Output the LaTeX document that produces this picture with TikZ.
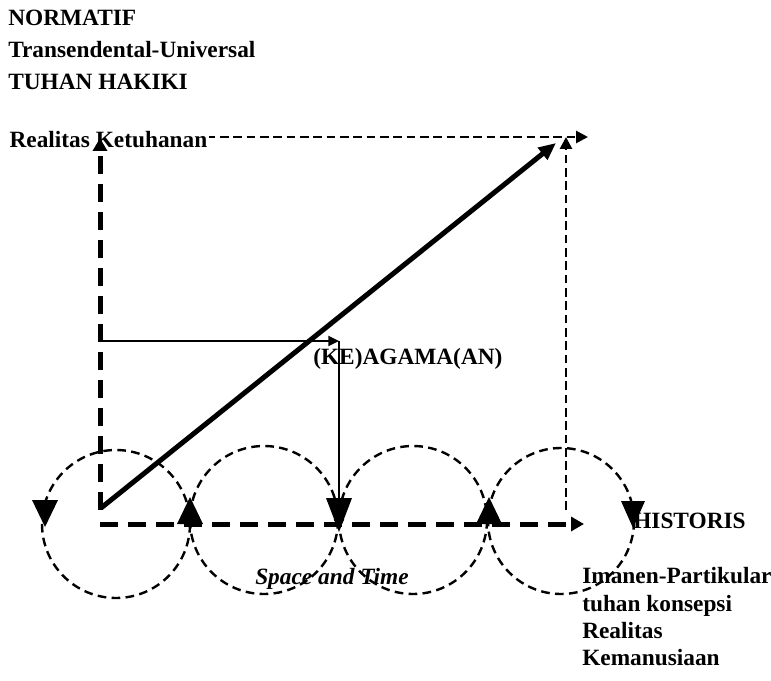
\documentclass[tikz,border=0pt]{standalone}
\usepackage{fontspec}
\setmainfont{Liberation Serif}
\usetikzlibrary{arrows.meta, positioning}

\tikzset{
    lbl/.style={
        anchor=base west, inner sep=0pt,
        font=\bfseries\fontsize{17.5}{21}\selectfont
    },
    axisline/.style={
        line width=3.75pt, dash pattern=on 13.5pt off 7.5pt,
        -{Triangle[length=9.75pt, width=10.5pt]}
    },
    guideline/.style={
        line width=2pt, dash pattern=on 6.5pt off 3.5pt,
        -{Triangle[length=9pt, width=9pt]}
    },
    loopcirc/.style={
        line width=1.8pt, dash pattern=on 6.5pt off 4pt
    },
    trend/.style={
        line width=3.75pt, -{Triangle[length=13pt, width=11pt]}
    },
    link/.style={
        line width=1.6pt, -{Triangle[length=8pt, width=7.5pt]}
    },
    head/.style={fill=black}
}

\begin{document}
\begin{tikzpicture}[x=0.75pt, y=-0.75pt]
    \useasboundingbox (0,0) rectangle (771,681);

    % points of the frame
    \coordinate (O) at (100,524);
    \coordinate (Ostart) at (100,510);
    \coordinate (Ytop) at (100,138);
    \coordinate (Xend) at (584,524);
    \coordinate (TL) at (100,137);
    \coordinate (TRend) at (588,137);
    \coordinate (Rbot) at (566,510);
    \coordinate (Rtop) at (566,137);
    \coordinate (Dstart) at (101,508);
    \coordinate (Dend) at (556,143);
    \coordinate (K1) at (99,341);
    \coordinate (K2) at (339,341);
    \coordinate (K3) at (339,530);

    % SPACE AND TIME CIRCLES
    \draw[loopcirc] (116,524) circle[radius=74];
    \draw[loopcirc] (264,520) circle[radius=74];
    \draw[loopcirc] (413,520) circle[radius=74];
    \draw[loopcirc] (561,521) circle[radius=73];

    % FRAME
    \draw[guideline] (TL) -- (TRend);
    \draw[guideline] (Rbot) -- (Rtop);
    \node[lbl, fill=white, inner sep=1pt] (ketuhanan) at (8,148) {Realitas Ketuhanan};
    \draw[axisline] (Ostart) -- (Ytop);
    \draw[axisline] (O) -- (Xend);

    % DIAGONAL
    \draw[trend] (Dstart) -- (Dend);

    % (KE)AGAMA(AN)
    \draw[link] (K1) -- (K2);
    \draw[link] (K2) -- (K3);

    % LABELS
    \node[lbl] (normatif) at (8,26) {NORMATIF};
    \node[lbl] (transenden) at (8,58) {Transendental-Universal};
    \node[lbl] (tuhan) at (8,90) {TUHAN HAKIKI};
    \node[lbl] (agama) at (313,364) {(KE)AGAMA(AN)};
    \node[lbl, font=\bfseries\itshape\fontsize{17.5}{21}\selectfont] (space) at (255,584) {Space and Time};
    \node[lbl] (historis) at (633,528) {HISTORIS};
    \node[lbl] (imanen) at (582,583) {Imanen-Partikular};
    \node[lbl] (konsepsi) at (582,611) {tuhan konsepsi};
    \node[lbl] (realitas) at (582,638) {Realitas};
    \node[lbl] (manusia) at (582,665) {Kemanusiaan};

    % ARROWHEADS ON THE CIRCLES
    \fill[head] (45,527) -- ++(-13,-27) -- ++(26,0) -- cycle;
    \fill[head] (190,497) -- ++(-13,27) -- ++(26,0) -- cycle;
    \fill[head] (339,532) -- ++(-13,-34) -- ++(26,0) -- cycle;
    \fill[head] (489,497) -- ++(-13,27) -- ++(26,0) -- cycle;
    \fill[head] (633,528) -- ++(-12,-27) -- ++(24,0) -- cycle;

\end{tikzpicture}
\end{document}
